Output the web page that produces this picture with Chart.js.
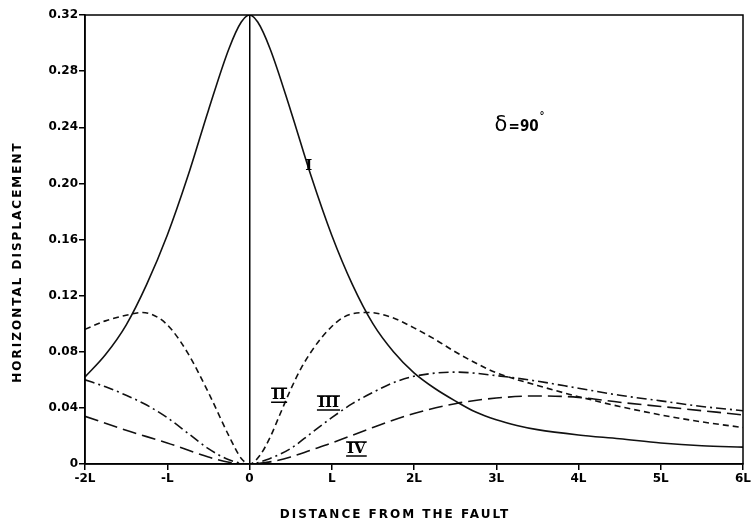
<!DOCTYPE html>
<html>
<head>
<meta charset="utf-8">
<script src="https://cdn.jsdelivr.net/npm/chart.js@4"></script>
<style>
  html, body { margin: 0; padding: 0; background: #fff; }
  #wrap { width: 753px; height: 526px; }
</style>
</head>
<body>
<div id="wrap"><canvas id="chart1"></canvas></div>
<script>
// distance from the fault, in units of L
const xTicks = [-2, -1, 0, 1, 2, 3, 4, 5, 6]
const xTickLabels = ['-2L', '-L', '0', 'L', '2L', '3L', '4L', '5L', '6L']
const yTicks = [0, 0.04, 0.08, 0.12, 0.16, 0.20, 0.24, 0.28, 0.32]

// curve I (solid)
const curve1X = [-2, -1.75, -1.5, -1.25, -1, -0.75, -0.5, -0.25, -0.1, 0, 0.1, 0.25, 0.5, 0.75, 1, 1.25, 1.5, 1.75, 2, 2.25, 2.5, 2.75, 3, 3.25, 3.5, 4, 4.5, 5, 5.5, 6]
const curve1Y = [0.062, 0.078, 0.099, 0.128, 0.163, 0.205, 0.252, 0.296, 0.315, 0.320, 0.315, 0.296, 0.252, 0.205, 0.163, 0.128, 0.100, 0.080, 0.065, 0.054, 0.045, 0.037, 0.0315, 0.0275, 0.0245, 0.0207, 0.018, 0.015, 0.013, 0.012]

// curve II (short dash)
const curve2X = [-2, -1.75, -1.5, -1.3, -1.1, -0.95, -0.75, -0.5, -0.25, -0.1, 0, 0.125, 0.25, 0.375, 0.5, 0.625, 0.75, 0.875, 1, 1.125, 1.25, 1.45, 1.75, 2, 2.25, 2.5, 2.75, 3, 3.5, 4, 4.5, 5, 5.5, 6]
const curve2Y = [0.096, 0.102, 0.106, 0.108, 0.104, 0.096, 0.079, 0.051, 0.020, 0.004, 0, 0.006, 0.019, 0.036, 0.053, 0.068, 0.080, 0.090, 0.098, 0.104, 0.107, 0.108, 0.104, 0.097, 0.089, 0.080, 0.072, 0.065, 0.056, 0.048, 0.041, 0.035, 0.030, 0.026]

// curve III (dash-dot)
const curve3X = [-2, -1.75, -1.5, -1.25, -1, -0.75, -0.5, -0.25, 0, 0.25, 0.5, 0.75, 1, 1.25, 1.5, 1.75, 2, 2.5, 3, 3.5, 4, 4.5, 5, 5.5, 6]
const curve3Y = [0.060, 0.055, 0.049, 0.042, 0.033, 0.022, 0.011, 0.003, 0, 0.004, 0.011, 0.022, 0.033, 0.043, 0.051, 0.058, 0.0625, 0.0655, 0.063, 0.059, 0.054, 0.049, 0.045, 0.041, 0.038]

// curve IV (long dash)
const curve4X = [-2, -1.5, -1, -0.5, -0.25, 0, 0.25, 0.5, 0.75, 1, 1.5, 2, 2.5, 3, 3.5, 4, 4.5, 5, 5.5, 6]
const curve4Y = [0.034, 0.024, 0.015, 0.005, 0.0012, 0, 0.0015, 0.005, 0.010, 0.015, 0.026, 0.036, 0.043, 0.047, 0.0485, 0.0475, 0.044, 0.041, 0.038, 0.035]

// labels placed in data units
const curveLabels = ['I', 'II', 'III', 'IV']
const curveLabelX = [0.72, 0.36, 0.96, 1.30]
const curveLabelY = [0.212, 0.049, 0.0435, 0.0107]

function pts(xs, ys) {
    return xs.map((x, i) => ({ x: x, y: ys[i] }))
}

const framePlugin = {
    id: 'frame',
    afterDraw(chart) {
        const c = chart.ctx
        const a = chart.chartArea
        const sx = chart.scales.x
        const sy = chart.scales.y
        c.save()
        c.strokeStyle = '#000'
        c.lineWidth = 1.5
        c.strokeRect(a.left, a.top, a.right - a.left, a.bottom - a.top)

        // curve labels, roman numerals with bars
        c.fillStyle = '#000'
        c.textAlign = 'center'
        c.textBaseline = 'middle'
        curveLabels.forEach((t, i) => {
            const px = sx.getPixelForValue(curveLabelX[i])
            const py = sy.getPixelForValue(curveLabelY[i])
            c.font = 'bold 15px "DejaVu Serif"'
            c.fillText(t, px, py)
            if (i > 0) {
                const w = c.measureText(t).width / 2 + 1
                c.lineWidth = 1.5
                c.beginPath()
                c.moveTo(px - w, py - 7); c.lineTo(px + w, py - 7)
                c.moveTo(px - w, py + 7); c.lineTo(px + w, py + 7)
                c.stroke()
            }
        })

        // angle note
        const dx = sx.getPixelForValue(2.98)
        const dy = sy.getPixelForValue(0.241)
        c.textAlign = 'left'
        c.font = '21px "DejaVu Sans"'
        c.fillText('δ', dx, dy)
        c.font = 'bold 15px "DejaVu Sans Condensed"'
        c.fillText('=90', dx + 14, dy + 1)
        c.font = 'bold 10px "DejaVu Sans"'
        c.fillText('°', dx + 45, dy - 9)

        // axis titles
        c.font = 'bold 12px "DejaVu Sans"'
        c.letterSpacing = '2px'
        c.textAlign = 'center'
        c.fillText('DISTANCE FROM THE FAULT', 395, 515)
        c.translate(18, 262)
        c.rotate(-Math.PI / 2)
        c.fillText('HORIZONTAL DISPLACEMENT', 0, 0)
        c.restore()
    }
}

const ctx1 = document.getElementById('chart1')

new Chart(ctx1, {
    type: 'line',
    data: {
        datasets: [
            { label: 'I', data: pts(curve1X, curve1Y), borderColor: '#111', borderWidth: 1.6 },
            { label: 'II', data: pts(curve2X, curve2Y), borderColor: '#111', borderWidth: 1.6, borderDash: [6, 4] },
            { label: 'III', data: pts(curve3X, curve3Y), borderColor: '#111', borderWidth: 1.6, borderDash: [10, 4, 2, 4] },
            { label: 'IV', data: pts(curve4X, curve4Y), borderColor: '#111', borderWidth: 1.6, borderDash: [14, 6] }
        ]
    },
    options: {
        responsive: true,
        maintainAspectRatio: false,
        animation: false,
        layout: { padding: { left: 25, right: 9, top: 15, bottom: 20 } },
        elements: {
            point: { radius: 0 },
            line: { cubicInterpolationMode: 'monotone', fill: false }
        },
        plugins: {
            legend: { display: false },
            tooltip: { enabled: false }
        },
        scales: {
            x: {
                type: 'linear',
                min: -2,
                max: 6,
                afterBuildTicks: s => { s.ticks = xTicks.map(v => ({ value: v })) },
                afterFit: s => { s.height = 42 },
                ticks: {
                    color: '#000',
                    font: { family: 'DejaVu Sans', weight: 'bold', size: 12 },
                    padding: 2,
                    maxRotation: 0,
                    callback: v => xTickLabels[xTicks.indexOf(v)]
                },
                grid: {
                    color: c => (c.tick && c.tick.value === 0) ? '#000' : 'transparent',
                    lineWidth: 1.5,
                    tickColor: '#000',
                    tickLength: 6
                },
                border: { display: true, color: '#000', width: 1.5 }
            },
            y: {
                min: 0,
                max: 0.32,
                afterBuildTicks: s => { s.ticks = yTicks.map(v => ({ value: v })) },
                afterFit: s => { s.width = 60 },
                ticks: {
                    color: '#000',
                    font: { family: 'DejaVu Sans', weight: 'bold', size: 12 },
                    padding: 1,
                    callback: v => v === 0 ? '0' : v.toFixed(2)
                },
                grid: {
                    color: 'transparent',
                    tickColor: '#000',
                    tickLength: 6,
                    lineWidth: 1.5
                },
                border: { display: true, color: '#000', width: 1.5 }
            }
        }
    },
    plugins: [framePlugin]
})
</script>
</body>
</html>
